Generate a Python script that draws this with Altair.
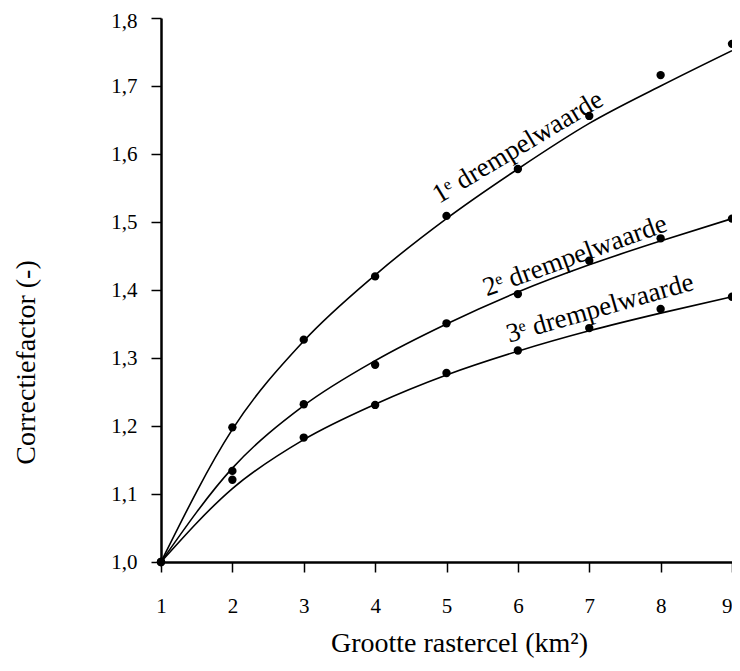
import altair as alt
import pandas as pd

FONT = "Liberation Serif"

x_vals = [1, 2, 3, 4, 5, 6, 7, 8, 9]

# measured points
pts1 = [1.000, 1.198, 1.327, 1.420, 1.509, 1.578, 1.656, 1.716, 1.762]
pts2 = [1.000, 1.134, 1.232, 1.290, 1.351, 1.394, 1.443, 1.476, 1.505]
pts3 = [1.000, 1.121, 1.183, 1.231, 1.278, 1.311, 1.344, 1.372, 1.390]

# fitted curves read at integer x
curve1 = [1.000, 1.195, 1.325, 1.422, 1.505, 1.578, 1.645, 1.700, 1.752]
curve2 = [1.000, 1.138, 1.230, 1.296, 1.350, 1.397, 1.437, 1.472, 1.505]
curve3 = [1.000, 1.108, 1.180, 1.232, 1.275, 1.310, 1.340, 1.366, 1.390]

series_names = ["1", "2", "3"]

label_texts = ["1ᵉ drempelwaarde", "2ᵉ drempelwaarde", "3ᵉ drempelwaarde"]
label_x = [6.0, 6.8, 7.15]
label_y = [1.61, 1.45, 1.373]
label_angle = [329, 340, 344]

y_ticks = [1.0, 1.1, 1.2, 1.3, 1.4, 1.5, 1.6, 1.7, 1.8]

pts_rows = []
curve_rows = []
for name, p, c in zip(series_names, [pts1, pts2, pts3], [curve1, curve2, curve3]):
    for xv, pv, cv in zip(x_vals, p, c):
        pts_rows.append({"x": xv, "y": pv, "s": name})
        curve_rows.append({"x": xv, "y": cv, "s": name})
pts_df = pd.DataFrame(pts_rows)
curve_df = pd.DataFrame(curve_rows)
lab_df = pd.DataFrame({"x": label_x, "y": label_y, "t": label_texts, "a": label_angle})

xscale = alt.Scale(domain=[1, 9], nice=False, zero=False)
yscale = alt.Scale(domain=[1.0, 1.8], nice=False, zero=False)

xaxis = alt.Axis(
    values=x_vals, title="Grootte rastercel (km²)", grid=False, format="d",
    tickSize=10, labelPadding=40, labelBaseline="alphabetic",
    labelAlign={"condition": {"test": "datum.value == 9", "value": "right"}, "value": "center"},
    titleX=298, titleY=89, titleBaseline="alphabetic", titleAlign="center",
    titleFontSize=28,
)
yaxis = alt.Axis(
    values=y_ticks, title="Correctiefactor (-)", grid=False,
    tickSize=10, labelPadding=14,
    labelOffset={"condition": {"test": "datum.value > 1.75", "value": 3}, "value": 0},
    labelExpr="replace(format(datum.value, '.1f'), '.', ',')",
    titleX=-135, titleY=344, titleBaseline="middle", titleAlign="center", titleAngle=270,
    titleFontSize=28,
)

lines = alt.Chart(curve_df).mark_line(color="black", strokeWidth=1.6, interpolate="monotone").encode(
    x=alt.X("x:Q", scale=xscale, axis=xaxis),
    y=alt.Y("y:Q", scale=yscale, axis=yaxis),
    detail="s:N",
)

points = alt.Chart(pts_df).mark_circle(color="black", size=70, opacity=1).encode(
    x=alt.X("x:Q", scale=xscale),
    y=alt.Y("y:Q", scale=yscale),
)

labels = alt.Chart(lab_df).mark_text(font=FONT, fontSize=27, color="black",
                                     align="center", baseline="middle").encode(
    x=alt.X("x:Q", scale=xscale),
    y=alt.Y("y:Q", scale=yscale),
    text="t:N",
    angle=alt.Angle("a:Q", scale=None),
)

chart = alt.layer(lines, points, labels).properties(
    width=571, height=544,
    background="white",
    autosize=alt.AutoSizeParams(type="none"),
    padding={"left": 153, "top": 10, "right": 0, "bottom": 96},
).configure_view(stroke=None).configure_axis(
    domainColor="black", domainWidth=2.5, tickColor="black", tickWidth=1.5,
    labelColor="black", titleColor="black", labelFont=FONT, titleFont=FONT,
    labelFontSize=21, titleFontWeight="normal",
)

chart.save("out.html", embed_options={"renderer": "svg", "actions": False})
